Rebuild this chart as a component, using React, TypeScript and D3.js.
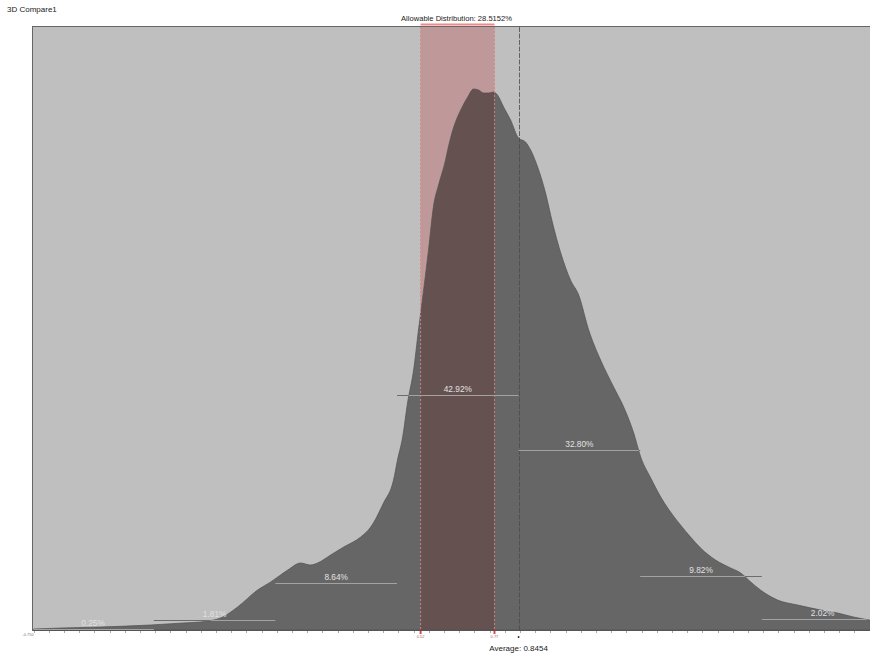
import React, { useEffect, useRef } from "react";
import * as d3 from "d3";

// deviation samples (x) and relative frequency (y)
const curveX = [
  -0.75, -0.661, -0.53, -0.365, -0.257, -0.201, -0.158, -0.135, -0.079, -0.013,
  0.03, 0.086, 0.128, 0.161, 0.184, 0.227, 0.27, 0.326, 0.359, 0.401, 0.434,
  0.447, 0.464, 0.48, 0.5, 0.516, 0.533, 0.549, 0.566, 0.582, 0.605, 0.612,
  0.632, 0.655, 0.678, 0.697, 0.714, 0.73, 0.747, 0.763, 0.776, 0.796, 0.819,
  0.845, 0.868, 0.885, 0.908, 0.934, 0.957, 0.984, 1.016, 1.043, 1.076, 1.115,
  1.158, 1.191, 1.224, 1.247, 1.28, 1.313, 1.345, 1.378, 1.411, 1.444, 1.493,
  1.543, 1.576, 1.609, 1.641, 1.697, 1.763, 1.839, 1.895, 1.947, 2.0,
];
const curveY = [
  0.18, 0.36, 0.55, 0.91, 1.28, 1.46, 1.82, 2.19, 4.2, 7.3, 8.76, 10.94, 12.22,
  11.86, 12.22, 13.68, 15.14, 16.96, 18.79, 23.17, 27.36, 31.01, 35.21, 41.41,
  47.43, 54.72, 62.02, 69.32, 77.53, 81.17, 85.74, 87.56, 91.76, 94.86, 97.23,
  98.69, 98.5, 97.96, 97.96, 98.14, 97.59, 95.4, 93.03, 89.75, 89.02, 87.56,
  84.46, 79.72, 74.24, 68.77, 63.85, 61.11, 54.72, 49.25, 44.33, 40.68, 35.94,
  31.56, 27.73, 24.26, 21.53, 19.15, 16.96, 14.96, 12.77, 11.31, 10.4, 8.76,
  7.3, 5.47, 4.56, 3.65, 3.1, 2.37, 1.82,
];

// sigma bins around the average
const binEdges = [-0.7546, -0.3546, 0.0454, 0.4454, 0.8454, 1.2454, 1.6454, 2.0454];
const binPercents = [0.25, 1.81, 8.64, 42.92, 32.8, 9.82, 2.02];

const average = 0.8454;
const allowLow = 0.523;
const allowHigh = 0.766;
const allowPercent = "28.5152%";
const xDomain = [-0.752, 1.998];

export default function App() {
  const ref = useRef<SVGSVGElement>(null);
  const width = 870;
  const height = 655;
  const left = 33;
  const right = 869;
  const top = 27;
  const bottom = 630;

  useEffect(() => {
    const svg = d3.select(ref.current);
    svg.selectAll("*").remove();

    const x = d3.scaleLinear().domain(xDomain).range([left, right]);
    const y = d3.scaleLinear().domain([0, 110]).range([bottom, top]);
    const font = "Liberation Sans, Arial, sans-serif";

    svg
      .append("text")
      .attr("x", 7)
      .attr("y", 12)
      .style("font-family", font)
      .style("font-size", "8px")
      .style("fill", "#222")
      .text("3D Compare1");

    svg
      .append("text")
      .attr("x", (x(allowLow) + x(allowHigh)) / 2 - 1)
      .attr("y", 21)
      .attr("text-anchor", "middle")
      .style("font-family", font)
      .style("font-size", "7.6px")
      .style("fill", "#222")
      .text(`Allowable Distribution: ${allowPercent}`);

    // background
    svg
      .append("rect")
      .attr("x", left)
      .attr("y", top)
      .attr("width", right - left + 1)
      .attr("height", bottom - top)
      .style("fill", "#bfbfbf");

    // allowable band
    svg
      .append("rect")
      .attr("x", x(allowLow))
      .attr("y", top)
      .attr("width", x(allowHigh) - x(allowLow))
      .attr("height", bottom - top)
      .style("fill", "#bf9999");

    svg
      .append("rect")
      .attr("x", x(allowLow))
      .attr("y", 23.5)
      .attr("width", x(allowHigh) - x(allowLow))
      .attr("height", 2)
      .style("fill", "#f08a8a");

    // distribution
    const pts = curveX.map((v, i) => [v, curveY[i]] as [number, number]);
    const area = d3
      .area<[number, number]>()
      .x(d => x(d[0]))
      .y0(y(0))
      .y1(d => y(d[1]))
      .curve(d3.curveMonotoneX);

    svg
      .append("defs")
      .append("clipPath")
      .attr("id", "areaClip")
      .append("path")
      .attr("d", area(pts));

    svg
      .append("path")
      .attr("d", area(pts))
      .style("fill", "rgba(0,0,0,0.465)")
      .style("stroke", "#505050")
      .style("stroke-width", 0.7);

    // band edges
    [allowLow, allowHigh].forEach(v => {
      svg
        .append("line")
        .attr("x1", x(v))
        .attr("x2", x(v))
        .attr("y1", top)
        .attr("y2", bottom)
        .style("stroke", "#e08080")
        .style("stroke-width", 0.9)
        .style("stroke-dasharray", "2,2");
    });

    // average line
    svg
      .append("line")
      .attr("x1", Math.round(x(average)) + 0.5)
      .attr("x2", Math.round(x(average)) + 0.5)
      .attr("y1", top)
      .attr("y2", bottom)
      .style("stroke", "#4a4a4a")
      .style("stroke-width", 0.8)
      .style("stroke-dasharray", "5,1.5");

    // bin segments
    const bins = binPercents.map((p, i) => ({
      p,
      x0: x(binEdges[i]),
      x1: Math.min(x(binEdges[i + 1]), right),
      xc: (x(binEdges[i]) + x(binEdges[i + 1])) / 2,
    }));

    svg
      .selectAll("line.seg")
      .data(bins)
      .enter()
      .append("line")
      .attr("class", "seg")
      .attr("x1", d => d.x0)
      .attr("x2", d => d.x1)
      .attr("y1", d => Math.round(y(d.p)) + 0.5)
      .attr("y2", d => Math.round(y(d.p)) + 0.5)
      .style("stroke", "#6c6c6c")
      .style("stroke-width", 1);

    svg
      .selectAll("line.segIn")
      .data(bins)
      .enter()
      .append("line")
      .attr("class", "segIn")
      .attr("clip-path", "url(#areaClip)")
      .attr("x1", d => d.x0)
      .attr("x2", d => d.x1)
      .attr("y1", d => Math.round(y(d.p)) + 0.5)
      .attr("y2", d => Math.round(y(d.p)) + 0.5)
      .style("stroke", "#a2a2a2")
      .style("stroke-width", 1);

    svg
      .selectAll("text.pct")
      .data(bins)
      .enter()
      .append("text")
      .attr("class", "pct")
      .attr("x", d => d.xc)
      .attr("y", d => y(d.p) - 3)
      .attr("text-anchor", "middle")
      .style("font-family", font)
      .style("font-size", "8.3px")
      .style("fill", "#e2e2e2")
      .text(d => `${d.p.toFixed(2)}%`);

    // border
    svg
      .append("rect")
      .attr("x", left - 0.5)
      .attr("y", top - 0.5)
      .attr("width", right - left + 2)
      .attr("height", bottom - top + 1)
      .style("fill", "none")
      .style("stroke", "#666")
      .style("stroke-width", 1);

    // axis
    svg
      .append("line")
      .attr("x1", left)
      .attr("x2", right + 1)
      .attr("y1", bottom + 0.5)
      .attr("y2", bottom + 0.5)
      .style("stroke", "#555");

    const ticks = d3.range(-0.75, 2.0001, 0.05);
    svg
      .selectAll("line.tick")
      .data(ticks)
      .enter()
      .append("line")
      .attr("class", "tick")
      .attr("x1", d => Math.round(x(d)) + 0.5)
      .attr("x2", d => Math.round(x(d)) + 0.5)
      .attr("y1", bottom + 1)
      .attr("y2", bottom + 3)
      .style("stroke", "#aaa");

    svg
      .append("text")
      .attr("x", left - 5)
      .attr("y", bottom + 6)
      .attr("text-anchor", "middle")
      .style("font-family", font)
      .style("font-size", "4px")
      .style("fill", "#777")
      .text("-0.750");

    [allowLow, allowHigh].forEach(v => {
      svg
        .append("rect")
        .attr("x", x(v) - 1)
        .attr("y", bottom + 1)
        .attr("width", 2)
        .attr("height", 3)
        .style("fill", "#e04a4a");
      svg
        .append("text")
        .attr("x", x(v))
        .attr("y", bottom + 8)
        .attr("text-anchor", "middle")
        .style("font-family", font)
        .style("font-size", "4px")
        .style("fill", "#b06060")
        .text(v.toFixed(2));
    });

    svg
      .append("circle")
      .attr("cx", x(average))
      .attr("cy", bottom + 7)
      .attr("r", 0.9)
      .style("fill", "#222");

    svg
      .append("text")
      .attr("x", x(average))
      .attr("y", 651)
      .attr("text-anchor", "middle")
      .style("font-family", font)
      .style("font-size", "8px")
      .style("fill", "#222")
      .text(`Average: ${average}`);
  }, []);

  return (
    <svg
      ref={ref}
      width={width}
      height={height}
      style={{ position: "absolute", left: 0, top: 0, background: "#fff" }}
    />
  );
}
